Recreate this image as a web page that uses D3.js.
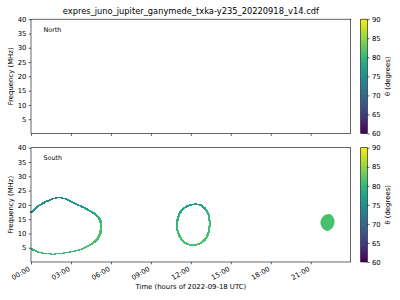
<!DOCTYPE html>
<html>
<head>
<meta charset="utf-8">
<script src="https://cdn.jsdelivr.net/npm/d3@7"></script>
<style>
  body { margin: 0; background: #fff; }
  text { font-family: "DejaVu Sans", sans-serif; }
</style>
</head>
<body>
<div id="chart"></div>
<script>
// tick values / labels
const hourTicks = [0, 3, 6, 9, 12, 15, 18, 21];
const hourLabels = ["00:00", "03:00", "06:00", "09:00", "12:00", "15:00", "18:00", "21:00"];
const freqTicks = [5, 10, 15, 20, 25, 30, 35, 40];
const thetaTicks = [60, 65, 70, 75, 80, 85, 90];

// South emission, first arc (hours, MHz, theta deg)
const arc1Hours = [0.0, 0.5, 1.0, 1.5, 1.9, 2.3, 2.8, 3.3, 3.8, 4.3, 4.8, 5.1, 5.25, 5.25, 5.1, 4.8, 4.3, 3.8, 3.3, 2.5, 1.8, 1.0, 0.4, 0.0];
const arc1Freq = [17.3, 19.4, 20.8, 21.9, 22.4, 22.4, 21.7, 20.5, 19.4, 18.2, 16.8, 15.3, 13.5, 11.2, 8.9, 7.1, 5.6, 4.55, 3.85, 3.15, 2.8, 3.0, 3.7, 4.8];
const arc1Theta = [76, 75.5, 74.5, 74, 73.5, 73.5, 74, 75, 76, 77, 78, 79.5, 80.5, 81.5, 81.5, 81.5, 81, 81, 80.5, 80.5, 80.5, 80.5, 80, 80];

// second loop (closed)
const arc2Hours = [12.3, 12.7, 13.03, 13.29, 13.4, 13.4, 13.29, 13.08, 12.7, 12.2, 11.7, 11.28, 11.03, 10.95, 11.03, 11.2, 11.53, 11.95];
const arc2Freq = [20.2, 19.95, 18.8, 17.0, 14.7, 12.4, 10.0, 8.05, 6.5, 5.95, 6.4, 8.05, 10.6, 12.95, 15.3, 17.4, 19.0, 19.95];
const arc2Theta = [76.5, 77, 78, 79.5, 80.5, 81, 81, 81.5, 81.5, 81.5, 81.5, 81, 80.5, 80, 79.5, 78.5, 77.5, 77];

// filled blob near 22h
const blobHours = [22.48, 22.78, 22.68, 22.28, 21.86, 21.73, 21.98];
const blobFreq = [16.7, 14.7, 12.35, 10.85, 12.0, 14.1, 16.2];
const blobTheta = 81.3;

const width = 400, height = 300;
const left = 31, right = 350.7;
const panels = [
  {name: "North", top: 19.2, bottom: 133.5, labels: false},
  {name: "South", top: 147.7, bottom: 262, labels: true}
];
const fs = 6.9;

const svg = d3.select("#chart").append("svg")
  .attr("width", width).attr("height", height);

const x = d3.scaleLinear().domain([0, 24]).range([left, right]);
const color = d3.scaleSequential(d3.interpolateViridis).domain([60, 90]);

svg.append("text")
  .attr("x", (left + right) / 2).attr("y", 14)
  .attr("text-anchor", "middle")
  .style("font-size", "8.3px")
  .text("expres_juno_jupiter_ganymede_txka-y235_20220918_v14.cdf");

// gradient for the colorbars
const grad = svg.append("defs").append("linearGradient")
  .attr("id", "viridis").attr("x1", 0).attr("y1", 1).attr("x2", 0).attr("y2", 0);
d3.range(0, 1.001, 0.05).forEach(t => {
  grad.append("stop").attr("offset", t).attr("stop-color", d3.interpolateViridis(t));
});

panels.forEach(p => {
  const y = d3.scaleLinear().domain([0, 40]).range([p.bottom, p.top]);
  const g = svg.append("g");

  // y axis
  const ya = g.append("g")
    .attr("transform", `translate(${left},0)`)
    .call(d3.axisLeft(y).tickValues(freqTicks).tickSize(2.4).tickPadding(2.2));
  ya.select(".domain").remove();
  ya.selectAll("text").style("font-size", fs + "px").style("font-family", "DejaVu Sans");
  ya.selectAll("line").attr("stroke-width", 0.6);

  // x axis
  const xa = g.append("g")
    .attr("transform", `translate(0,${p.bottom})`)
    .call(d3.axisBottom(x).tickValues(hourTicks).tickSize(2.4).tickFormat(""));
  xa.select(".domain").remove();
  xa.selectAll("line").attr("stroke-width", 0.6);

  if (p.labels) {
    g.selectAll(".xl").data(hourTicks).enter().append("text")
      .attr("transform", (d, i) => `translate(${x(d) - 0.5},${p.bottom + 8.2}) rotate(-30)`)
      .attr("text-anchor", "end")
      .style("font-size", fs + "px")
      .text((d, i) => hourLabels[i]);
  }

  g.append("text")
    .attr("transform", `translate(${12.5},${(p.top + p.bottom) / 2}) rotate(-90)`)
    .attr("text-anchor", "middle")
    .style("font-size", fs + "px")
    .text("Frequency (MHz)");

  g.append("text")
    .attr("x", 43.5).attr("y", p.top + 12.6)
    .style("font-size", "6.4px")
    .text(p.name);

  if (p.name === "South") {
    drawArc(g, y, arc1Hours, arc1Freq, arc1Theta, false, 2.6, 1);
    drawArc(g, y, arc2Hours, arc2Freq, arc2Theta, true, 2, 1.6);

    g.append("path")
      .datum(blobHours.map((h, i) => [x(h), y(blobFreq[i])]))
      .attr("d", d3.line().curve(d3.curveCatmullRomClosed))
      .attr("fill", color(blobTheta));
  }

  // frame
  g.append("rect")
    .attr("x", left).attr("y", p.top)
    .attr("width", right - left).attr("height", p.bottom - p.top)
    .attr("fill", "none").attr("stroke", "#000").attr("stroke-width", 0.6);

  // colorbar
  const cbx = 360.7, cbw = 6.6;
  const cy = d3.scaleLinear().domain([60, 90]).range([p.bottom, p.top]);
  g.append("rect")
    .attr("x", cbx).attr("y", p.top)
    .attr("width", cbw).attr("height", p.bottom - p.top)
    .attr("fill", "url(#viridis)")
    .attr("stroke", "#000").attr("stroke-width", 0.6);
  const ca = g.append("g")
    .attr("transform", `translate(${cbx + cbw},0)`)
    .call(d3.axisRight(cy).tickValues(thetaTicks).tickSize(2.4).tickPadding(2.2));
  ca.select(".domain").remove();
  ca.selectAll("text").style("font-size", fs + "px").style("font-family", "DejaVu Sans");
  ca.selectAll("line").attr("stroke-width", 0.6);

  g.append("text")
    .attr("transform", `translate(${389.5},${(p.top + p.bottom) / 2}) rotate(-90)`)
    .attr("text-anchor", "middle")
    .style("font-size", fs + "px")
    .text("θ (degrees)");
});

svg.append("text")
  .attr("x", (left + right) / 2).attr("y", 289)
  .attr("text-anchor", "middle")
  .style("font-size", fs + "px")
  .text("Time (hours of 2022-09-18 UTC)");

// draw a traced emission arc as small cells sampled along a smooth path
function drawArc(g, y, hours, freq, theta, closed, cw, ch) {
  const pts = hours.map((h, i) => [x(h), y(freq[i])]);
  const line = d3.line().curve(closed ? d3.curveCatmullRomClosed : d3.curveCatmullRom);
  const tmp = g.append("path").attr("d", line(pts)).attr("fill", "none").attr("stroke", "none");
  const node = tmp.node();
  const len = node.getTotalLength();
  const cells = [];
  for (let s = 0; s <= len; s += 0.5) {
    const pt = node.getPointAtLength(s);
    let best = 0, bd = Infinity;
    pts.forEach((q, i) => {
      const d = (q[0] - pt.x) ** 2 + (q[1] - pt.y) ** 2;
      if (d < bd) { bd = d; best = i; }
    });
    cells.push({x: pt.x, y: pt.y, t: theta[best]});
  }
  tmp.remove();
  g.append("g").attr("shape-rendering", "crispEdges")
    .selectAll("rect").data(cells).enter().append("rect")
    .attr("x", d => d.x - cw / 2).attr("y", d => d.y - ch / 2)
    .attr("width", cw).attr("height", ch)
    .attr("fill", d => color(d.t));
}
</script>
</body>
</html>
